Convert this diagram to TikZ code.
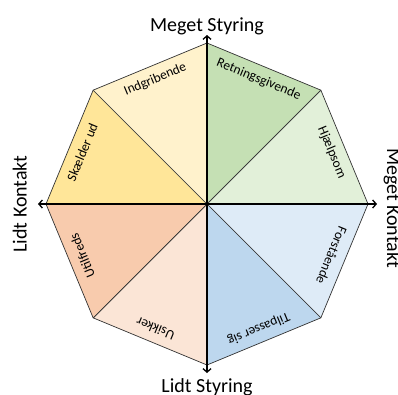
\documentclass[tikz,border=0pt]{standalone}
\usepackage{fontspec}
\setmainfont{Carlito}
\usetikzlibrary{arrows.meta}
\definecolor{retning}{HTML}{C5E0B4}
\definecolor{hjaelp}{HTML}{E2F0D9}
\definecolor{forst}{HTML}{DEEBF7}
\definecolor{tilpas}{HTML}{BDD7EE}
\definecolor{usikker}{HTML}{FBE5D6}
\definecolor{utilfreds}{HTML}{F8CBAD}
\definecolor{skaelder}{HTML}{FFE699}
\definecolor{indgrib}{HTML}{FFF2CC}
\begin{document}
\begin{tikzpicture}[x=1pt,y=1pt,
  sector/.style={draw=black!80, line width=0.7pt, line join=round},
  axis/.style={line width=1.5pt, -{Straight Barb[length=3.5pt,width=8pt,line width=1.3pt]}},
  seclabel/.style={font=\fontsize{13.4}{14}\selectfont, inner sep=0pt},
  axlabel/.style={font=\fontsize{20}{22}\selectfont, inner sep=0pt}]
\useasboundingbox (-207,-190) rectangle (191,204);
\coordinate (O) at (0,0);
% octagon corners, counter-clockwise from the right
\foreach \i in {0,...,7} \coordinate (v\i) at ({45*\i}:161);
% the eight coloured sectors with their labels
\foreach \a/\b/\col/\mid/\txt in {
    1/2/retning/67.5/Retningsgivende,
    0/1/hjaelp/22.5/Hjælpsom,
    7/0/forst/-22.5/Forstående,
    6/7/tilpas/-67.5/Tilpasser sig,
    5/6/usikker/-112.5/Usikker,
    4/5/utilfreds/-157.5/Utilfreds,
    3/4/skaelder/157.5/Skælder ud,
    2/3/indgrib/112.5/Indgribende} {
  \filldraw[sector, fill=\col] (O) -- (v\a) -- (v\b) -- cycle;
  \node[seclabel, rotate=\mid-90] (lab\a) at (\mid:135) {\txt};
}
% axes
\coordinate (tN) at (0,169);
\coordinate (tS) at (0,-169);
\coordinate (tE) at (170,0);
\coordinate (tW) at (-169,0);
\draw[axis] (O) -- (tN);
\draw[axis] (O) -- (tS);
\draw[axis] (O) -- (tE);
\draw[axis] (O) -- (tW);
% axis labels
\node[axlabel, anchor=base] (styHi) at (0,172.5) {Meget Styring};
\node[axlabel, anchor=base] (styLo) at (0,-188) {Lidt Styring};
\node[axlabel, anchor=base, rotate=90] (konLo) at (-180.3,0) {Lidt Kontakt};
\node[axlabel, anchor=base, rotate=-90] (konHi) at (180,-4) {Meget Kontakt};
\end{tikzpicture}
\end{document}
